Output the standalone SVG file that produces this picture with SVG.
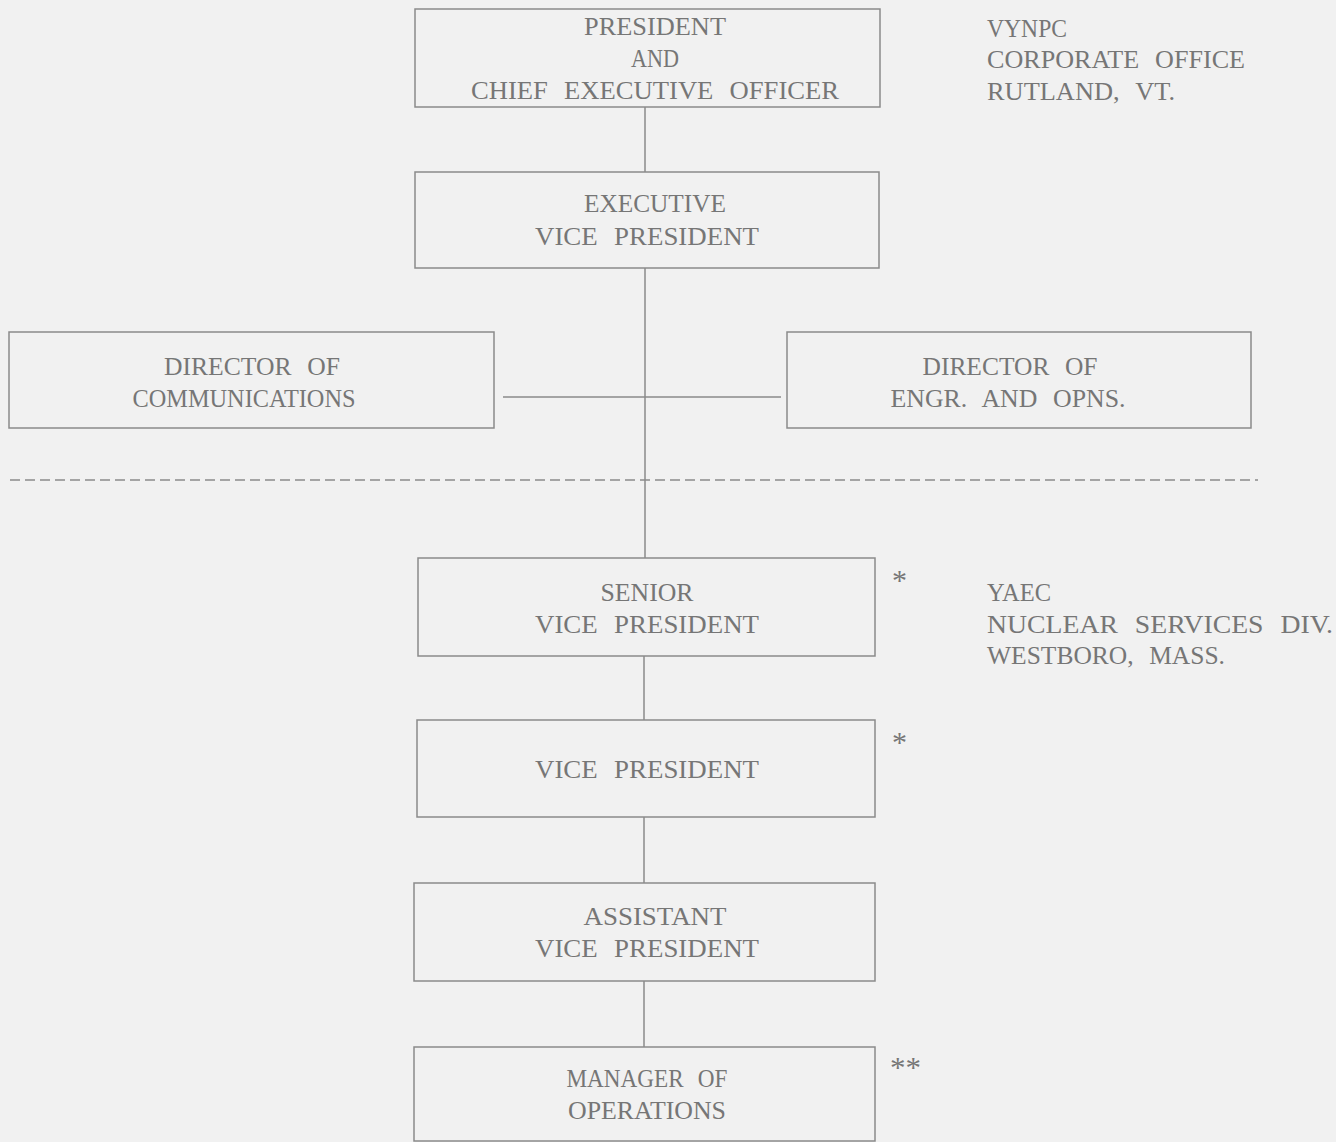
<svg xmlns="http://www.w3.org/2000/svg" width="1336" height="1142" viewBox="0 0 1336 1142">
<style>
.box{fill:none;stroke:#8a8a8a;stroke-width:1.5}
.ln{stroke:#8a8a8a;stroke-width:1.5;fill:none}
text{font-family:"Liberation Serif","DejaVu Serif",serif;font-size:25px;fill:#767676;word-spacing:9px}
.c{text-anchor:middle}
.s{font-size:30px}
</style>
<rect x="0" y="0" width="1336" height="1142" fill="#f1f1f1"/>
<g id="connectors">
<line class="ln" x1="645" y1="107" x2="645" y2="172"/>
<line class="ln" x1="645" y1="268" x2="645" y2="558"/>
<line class="ln" x1="503" y1="397" x2="781" y2="397"/>
<line class="ln" x1="644" y1="656" x2="644" y2="720"/>
<line class="ln" x1="644" y1="817" x2="644" y2="883"/>
<line class="ln" x1="644" y1="981" x2="644" y2="1047"/>
<line class="ln" x1="10" y1="480" x2="1258" y2="480" stroke-dasharray="10 5"/>
</g>
<g id="president">
<rect class="box" x="415" y="9" width="465" height="98"/>
<text class="c" x="655" y="35" textLength="142" lengthAdjust="spacingAndGlyphs">PRESIDENT</text>
<text class="c" x="655" y="67" textLength="48" lengthAdjust="spacingAndGlyphs">AND</text>
<text class="c" x="655" y="99" textLength="368" lengthAdjust="spacingAndGlyphs">CHIEF EXECUTIVE OFFICER</text>
</g>
<g id="evp">
<rect class="box" x="415" y="172" width="464" height="96"/>
<text class="c" x="655" y="212" textLength="142" lengthAdjust="spacingAndGlyphs">EXECUTIVE</text>
<text class="c" x="647" y="245" textLength="224" lengthAdjust="spacingAndGlyphs">VICE PRESIDENT</text>
</g>
<g id="dir-comm">
<rect class="box" x="9" y="332" width="485" height="96"/>
<text class="c" x="252" y="375" textLength="176" lengthAdjust="spacingAndGlyphs">DIRECTOR OF</text>
<text class="c" x="244" y="407" textLength="223" lengthAdjust="spacingAndGlyphs">COMMUNICATIONS</text>
</g>
<g id="dir-engr">
<rect class="box" x="787" y="332" width="464" height="96"/>
<text class="c" x="1010" y="375" textLength="175" lengthAdjust="spacingAndGlyphs">DIRECTOR OF</text>
<text class="c" x="1008" y="407" textLength="235" lengthAdjust="spacingAndGlyphs">ENGR. AND OPNS.</text>
</g>
<g id="svp">
<rect class="box" x="418" y="558" width="457" height="98"/>
<text class="c" x="647" y="601" textLength="93" lengthAdjust="spacingAndGlyphs">SENIOR</text>
<text class="c" x="647" y="633" textLength="224" lengthAdjust="spacingAndGlyphs">VICE PRESIDENT</text>
<text class="s" x="892" y="590">*</text>
</g>
<g id="vp">
<rect class="box" x="417" y="720" width="458" height="97"/>
<text class="c" x="647" y="778" textLength="224" lengthAdjust="spacingAndGlyphs">VICE PRESIDENT</text>
<text class="s" x="892" y="752">*</text>
</g>
<g id="avp">
<rect class="box" x="414" y="883" width="461" height="98"/>
<text class="c" x="655" y="925" textLength="143" lengthAdjust="spacingAndGlyphs">ASSISTANT</text>
<text class="c" x="647" y="957" textLength="224" lengthAdjust="spacingAndGlyphs">VICE PRESIDENT</text>
</g>
<g id="mgr">
<rect class="box" x="414" y="1047" width="461" height="94"/>
<text class="c" x="647" y="1087" textLength="161" lengthAdjust="spacingAndGlyphs">MANAGER OF</text>
<text class="c" x="647" y="1119" textLength="158" lengthAdjust="spacingAndGlyphs">OPERATIONS</text>
<text class="s" x="890" y="1077" textLength="31" lengthAdjust="spacingAndGlyphs">**</text>
</g>
<g id="labels">
<text x="987" y="37" textLength="80" lengthAdjust="spacingAndGlyphs">VYNPC</text>
<text x="987" y="68" textLength="258" lengthAdjust="spacingAndGlyphs">CORPORATE OFFICE</text>
<text x="987" y="100" textLength="188" lengthAdjust="spacingAndGlyphs">RUTLAND, VT.</text>
<text x="987" y="601" textLength="64" lengthAdjust="spacingAndGlyphs">YAEC</text>
<text x="987" y="633" textLength="346" lengthAdjust="spacingAndGlyphs">NUCLEAR SERVICES DIV.</text>
<text x="987" y="664" textLength="238" lengthAdjust="spacingAndGlyphs">WESTBORO, MASS.</text>
</g>
</svg>
